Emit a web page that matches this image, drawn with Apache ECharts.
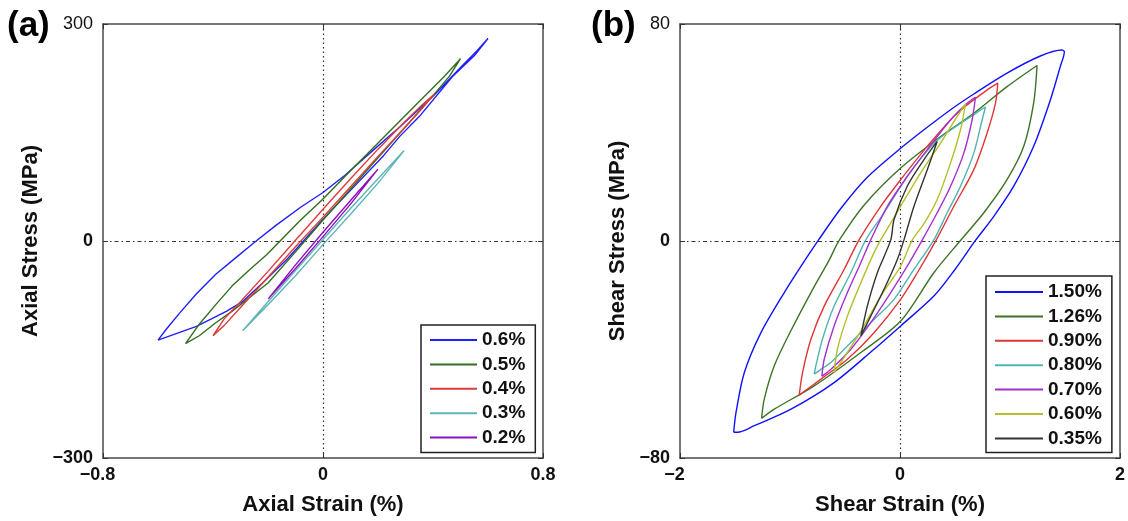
<!DOCTYPE html>
<html>
<head>
<meta charset="utf-8">
<title>Axial and shear hysteresis loops</title>
<script src="https://cdn.jsdelivr.net/npm/echarts@6/dist/echarts.min.js"></script>
<style>
  html, body { margin: 0; padding: 0; background: #fff; }
  #chart { width: 1128px; height: 521px; }
</style>
</head>
<body>
<div id="chart"></div>
<script>
// ---- (a) axial stress–strain loops: [strain %, stress MPa] ----
const axialNames = ['0.6%', '0.5%', '0.4%', '0.3%', '0.2%'];
const axialColors = ['#2020ff', '#2f6f1f', '#e03a3a', '#5fb5b5', '#8a10c0'];

const axial06 = [
  [-0.60, -137], [-0.57, -122], [-0.52, -99], [-0.46, -73], [-0.39, -46], [-0.32, -24],
  [-0.25, -2], [-0.17, 22], [-0.08, 47], [0.00, 67], [0.08, 91], [0.16, 118], [0.28, 158],
  [0.40, 200], [0.50, 240], [0.56, 263], [0.60, 280],
  [0.55, 256], [0.47, 227], [0.35, 172], [0.28, 145], [0.22, 118], [0.10, 70], [0.00, 30],
  [-0.13, -25], [-0.22, -58], [-0.29, -83], [-0.35, -97], [-0.46, -118], [-0.60, -137]
];
const axial05 = [
  [-0.50, -142], [-0.45, -115], [-0.39, -88], [-0.33, -62], [-0.265, -39], [-0.205, -19],
  [-0.156, 0], [-0.084, 28], [0.00, 58], [0.10, 97], [0.22, 143], [0.34, 189], [0.44, 227], [0.50, 252],
  [0.46, 228], [0.40, 201], [0.30, 158], [0.20, 115], [0.10, 72], [0.00, 29], [-0.10, -15],
  [-0.20, -58], [-0.33, -97], [-0.39, -113], [-0.45, -131], [-0.50, -142]
];
const axial04 = [
  [-0.40, -131], [-0.36, -108], [-0.30, -84], [-0.20, -42], [-0.10, 1], [0.00, 44], [0.10, 86],
  [0.20, 127], [0.30, 166], [0.36, 188], [0.404, 203],
  [0.36, 183], [0.30, 158], [0.20, 117], [0.10, 75], [0.00, 33], [-0.10, -8], [-0.20, -50],
  [-0.30, -92], [-0.36, -117], [-0.40, -131]
];
const axial03 = [
  [-0.292, -124], [-0.20, -84], [-0.10, -41], [0.00, 2], [0.10, 45], [0.20, 86], [0.295, 125],
  [0.20, 80], [0.10, 37], [0.00, -5], [-0.10, -48], [-0.20, -88], [-0.292, -124]
];
const axial02 = [
  [-0.199, -80], [-0.10, -33], [0.00, 12], [0.10, 56], [0.199, 99],
  [0.10, 51], [0.00, 6], [-0.10, -38], [-0.199, -80]
];
const axialLoops = [axial06, axial05, axial04, axial03, axial02];

// ---- (b) shear stress–strain loops: [strain %, stress MPa] ----
const shearNames = ['1.50%', '1.26%', '0.90%', '0.80%', '0.70%', '0.60%', '0.35%'];
const shearColors = ['#1010ff', '#3d7326', '#e03535', '#4fb4b4', '#a52fd0', '#b5bf2a', '#333333'];

const shear150 = [
  [-1.512, -70.5], [-1.49, -63], [-1.415, -48.5], [-1.264, -33.8], [-1.052, -19], [-0.871, -7.5],
  [-0.74, 0.4], [-0.538, 12.0], [-0.297, 23.5], [0.00, 34], [0.218, 41], [0.46, 48.4],
  [0.671, 54.2], [0.973, 61.9], [1.276, 68.2], [1.472, 70.4], [1.494, 69.8],
  [1.457, 64.3], [1.367, 52], [1.215, 34.9], [1.034, 20.2], [0.853, 9.1], [0.686, 0.2],
  [0.50, -10.5], [0.308, -20.3], [0.006, -31.3], [-0.236, -39.9], [-0.599, -52.2],
  [-0.991, -62], [-1.324, -68.1], [-1.476, -70.5], [-1.512, -70.5]
];
const shear126 = [
  [-1.258, -65.4], [-1.234, -58.3], [-1.143, -46], [-0.991, -33], [-0.78, -16.8], [-0.65, -7.5],
  [-0.553, 0.2], [-0.327, 13.2], [0.006, 26.9], [0.369, 38.5], [0.671, 47.1], [0.973, 56.9], [1.246, 64.7],
  [1.215, 50.8], [1.125, 34.9], [0.973, 22.6], [0.762, 10.4], [0.55, 0.2], [0.308, -11.7],
  [0.006, -29.5], [-0.356, -41.1], [-0.78, -53.4], [-1.143, -62], [-1.258, -65.4]
];
const shear090 = [
  [-0.916, -56.8], [-0.886, -48.5], [-0.81, -36.2], [-0.689, -24], [-0.508, -10.5], [-0.372, 0.4],
  [-0.175, 12.8], [0.006, 22.6], [0.248, 34.9], [0.52, 47.1], [0.792, 55.7], [0.889, 58.2],
  [0.868, 50.8], [0.792, 39.8], [0.671, 26.3], [0.49, 12.8], [0.33, 0.4], [0.158, -11.7],
  [0.006, -21.5], [-0.236, -33.8], [-0.478, -43.6], [-0.719, -50.9], [-0.916, -56.8]
];
const shear080 = [
  [-0.78, -49.1], [-0.765, -46], [-0.705, -36.2], [-0.599, -24], [-0.447, -11.7], [-0.311, 0.4],
  [-0.145, 10.4], [0.066, 23.8], [0.20, 31], [0.35, 37.5], [0.50, 42], [0.65, 46], [0.74, 48.5], [0.777, 49.4],
  [0.747, 44.7], [0.671, 32.4], [0.55, 20.2], [0.429, 10.4], [0.308, 0.4], [0.127, -10.5],
  [-0.054, -21.5], [-0.236, -28.9], [-0.447, -37.4], [-0.628, -44.8], [-0.719, -47.3], [-0.78, -49.1]
];
const shear070 = [
  [-0.71, -49.9], [-0.689, -43.6], [-0.599, -31.3], [-0.478, -19], [-0.356, -8], [-0.266, 0.4],
  [-0.115, 12.8], [0.066, 23.8], [0.248, 33.7], [0.46, 44.7], [0.61, 50.8], [0.686, 53],
  [0.656, 44.7], [0.58, 32.4], [0.46, 20.2], [0.338, 10.4], [0.203, 0.4], [0.066, -9.3],
  [-0.084, -19], [-0.266, -30.1], [-0.447, -39.9], [-0.628, -47.3], [-0.71, -49.9]
];
const shear060 = [
  [-0.599, -48.5], [-0.569, -39.9], [-0.478, -27.7], [-0.356, -15.4], [-0.236, -4.3], [-0.175, 0.4],
  [0.006, 12.8], [0.188, 25.1], [0.369, 36.1], [0.52, 45.9], [0.596, 50.6],
  [0.55, 41], [0.46, 28.8], [0.338, 15.3], [0.22, 6.5], [0.112, 0.4], [0.006, -9.3],
  [-0.175, -20.3], [-0.327, -31.3], [-0.478, -41.1], [-0.599, -48.5]
];
const shear035 = [
  [-0.356, -35], [-0.297, -24], [-0.206, -11.7], [-0.084, 0.4], [-0.054, 7.9], [0.066, 20.2],
  [0.218, 30], [0.338, 36.7],
  [0.248, 26.3], [0.127, 12.8], [0.036, 0.4], [-0.024, -6.8], [-0.145, -17.8], [-0.266, -27.7], [-0.356, -35]
];
const shearLoops = [shear150, shear126, shear090, shear080, shear070, shear060, shear035];

// ---- axis ranges ----
const axialStrainRange = [-0.8, 0.8, 0.8];
const axialStressRange = [-300, 300, 300];
const shearStrainRange = [-2, 2, 2];
const shearStressRange = [-80, 80, 80];

const FONT = '"Liberation Sans", Arial, Helvetica, sans-serif';
const INK = '#111';
const FRAME = '#4a4a4a';

function fmt(v) {
  return (v < 0 ? '\u2212' : '') + Math.abs(v);
}

const richStyles = {
  top: { fontFamily: FONT, fontSize: 18, fontWeight: 'normal', color: INK },
  neg: { fontFamily: FONT, fontSize: 18, fontWeight: 'bold', color: INK, padding: [0, 11, 0, 0] },
  b: { fontFamily: FONT, fontSize: 18, fontWeight: 'bold', color: INK }
};

function mainAxis(dim, grid, range, name, gap) {
  const [min, max, step] = range;
  const isX = dim === 'x';
  return {
    type: 'value', gridIndex: grid, min: min, max: max, interval: step,
    position: isX ? 'bottom' : 'left',
    axisLine: { show: true, onZero: false, lineStyle: { color: FRAME, width: 1.5 } },
    axisTick: { show: true, inside: true, length: 5, lineStyle: { color: '#333', width: 1 } },
    splitLine: { show: false },
    axisLabel: {
      show: true, margin: isX ? 8 : 10,
      fontFamily: FONT, fontSize: 18, fontWeight: 'bold', color: INK,
      rich: richStyles,
      formatter: function (v) {
        if (!isX && v === max) return '{top|' + fmt(v) + '}';
        if (isX && v === min) return '{neg|' + fmt(v) + '}';
        return '{b|' + fmt(v) + '}';
      }
    },
    name: name, nameLocation: 'middle', nameGap: gap,
    nameRotate: isX ? 0 : 90,
    nameTextStyle: { fontFamily: FONT, fontSize: 22, fontWeight: 'bold', color: INK }
  };
}

function mirrorAxis(dim, grid, range) {
  const [min, max, step] = range;
  return {
    type: 'value', gridIndex: grid, min: min, max: max, interval: step,
    position: dim === 'x' ? 'top' : 'right',
    axisLine: { show: true, onZero: false, lineStyle: { color: FRAME, width: 1.5 } },
    axisTick: { show: true, inside: true, length: 5, lineStyle: { color: '#333', width: 1 } },
    splitLine: { show: false },
    axisLabel: { show: false }
  };
}

function loopSeries(names, colors, loops, axisIdx, smooth) {
  return loops.map(function (d, i) {
    return {
      type: 'line', name: names[i], data: d,
      xAxisIndex: axisIdx, yAxisIndex: axisIdx,
      showSymbol: false, symbol: 'none', smooth: smooth, z: 3,
      color: colors[i],
      lineStyle: { color: colors[i], width: 1.4 },
      emphasis: { disabled: true }
    };
  });
}

// dotted zero reference lines, drawn beneath the loops
function zeroLines(axisIdx) {
  return {
    type: 'line', name: 'zero', data: [], xAxisIndex: axisIdx, yAxisIndex: axisIdx,
    symbol: 'none', silent: true, z: 1,
    markLine: {
      silent: true, symbol: 'none', z: 1, animation: false,
      label: { show: false },
      data: [
        { xAxis: 0, lineStyle: { color: '#333', width: 1.2, type: [1.5, 3] } },
        { yAxis: 0, lineStyle: { color: '#333', width: 1.2, type: [4, 3, 1.5, 3] } }
      ]
    }
  };
}

function legendAt(names, left, top, padding, width) {
  return {
    data: names, orient: 'vertical', left: left, top: top,
    padding: padding, itemGap: 4.4, itemWidth: width, itemHeight: 2,
    icon: 'rect', selectedMode: false,
    backgroundColor: '#fff', borderColor: '#222', borderWidth: 1.5, borderRadius: 0,
    textStyle: { fontFamily: FONT, fontSize: 19, fontWeight: 'bold', color: INK, lineHeight: 20 }
  };
}

const option = {
  animation: false,
  backgroundColor: '#fff',
  grid: [
    { left: 103, top: 24, width: 440, height: 435 },
    { left: 680, top: 24, width: 441, height: 435 }
  ],
  xAxis: [
    mainAxis('x', 0, axialStrainRange, 'Axial Strain (%)', 36),
    mirrorAxis('x', 0, axialStrainRange),
    mainAxis('x', 1, shearStrainRange, 'Shear Strain (%)', 36),
    mirrorAxis('x', 1, shearStrainRange)
  ],
  yAxis: [
    mainAxis('y', 0, axialStressRange, 'Axial Stress (MPa)', 61),
    mirrorAxis('y', 0, axialStressRange),
    mainAxis('y', 1, shearStressRange, 'Shear Stress (MPa)', 51),
    mirrorAxis('y', 1, shearStressRange)
  ],
  legend: [
    legendAt(axialNames, 421, 325, [5, 10, 5, 9], 47),
    legendAt(shearNames, 986, 276, [6, 10, 4, 9], 48)
  ],
  graphic: [
    { type: 'text', left: 7, top: 9, style: { text: '(a)', fontFamily: FONT, fontSize: 35, fontWeight: 'bold', fill: '#000' } },
    { type: 'text', left: 591, top: 9, style: { text: '(b)', fontFamily: FONT, fontSize: 35, fontWeight: 'bold', fill: '#000' } }
  ],
  series: [].concat(
    [zeroLines(0)],
    loopSeries(axialNames, axialColors, axialLoops, 0, false),
    [zeroLines(2)],
    loopSeries(shearNames, shearColors, shearLoops, 2, 0.3)
  )
};

const chart = echarts.init(document.getElementById('chart'), null, { renderer: 'canvas' });
chart.setOption(option);
</script>
</body>
</html>
